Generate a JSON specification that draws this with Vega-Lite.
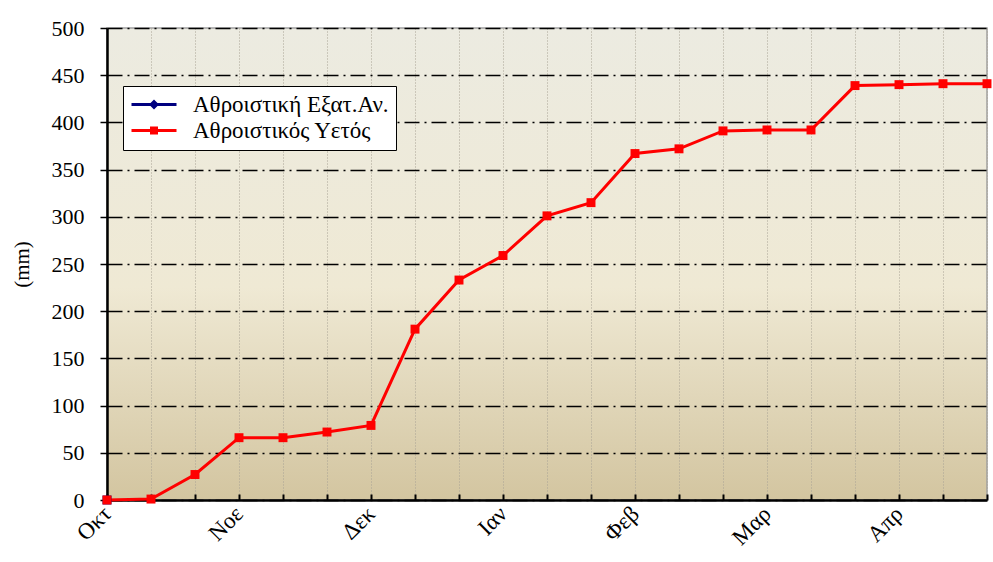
{
  "$schema": "https://vega.github.io/schema/vega-lite/v6.json",
  "width": 880,
  "height": 472,
  "autosize": "none",
  "padding": {"left": 107, "top": 28, "right": 6, "bottom": 62},
  "background": "white",
  "config": {
    "font": "Liberation Serif",
    "view": {
      "stroke": "#a0a0a0",
      "strokeWidth": 1.5,
      "fill": {
        "gradient": "linear",
        "x1": 0, "y1": 0, "x2": 0, "y2": 1,
        "stops": [
          {"offset": 0, "color": "#ecebe1"},
          {"offset": 0.55, "color": "#efe9d4"},
          {"offset": 1, "color": "#d3c5a0"}
        ]
      }
    }
  },
  "data": {
    "values": [
      {"t": 0, "series": "Αθροιστική Εξατ.Αν.", "value": 0},
      {"t": 0, "series": "Αθροιστικός Υετός", "value": 0},
      {"t": 1, "series": "Αθροιστικός Υετός", "value": 1},
      {"t": 2, "series": "Αθροιστικός Υετός", "value": 27},
      {"t": 3, "series": "Αθροιστικός Υετός", "value": 66},
      {"t": 4, "series": "Αθροιστικός Υετός", "value": 66},
      {"t": 5, "series": "Αθροιστικός Υετός", "value": 72},
      {"t": 6, "series": "Αθροιστικός Υετός", "value": 79},
      {"t": 7, "series": "Αθροιστικός Υετός", "value": 181},
      {"t": 8, "series": "Αθροιστικός Υετός", "value": 233},
      {"t": 9, "series": "Αθροιστικός Υετός", "value": 259},
      {"t": 10, "series": "Αθροιστικός Υετός", "value": 301},
      {"t": 11, "series": "Αθροιστικός Υετός", "value": 315},
      {"t": 12, "series": "Αθροιστικός Υετός", "value": 367},
      {"t": 13, "series": "Αθροιστικός Υετός", "value": 372},
      {"t": 14, "series": "Αθροιστικός Υετός", "value": 391},
      {"t": 15, "series": "Αθροιστικός Υετός", "value": 392},
      {"t": 16, "series": "Αθροιστικός Υετός", "value": 392},
      {"t": 17, "series": "Αθροιστικός Υετός", "value": 439},
      {"t": 18, "series": "Αθροιστικός Υετός", "value": 440},
      {"t": 19, "series": "Αθροιστικός Υετός", "value": 441},
      {"t": 20, "series": "Αθροιστικός Υετός", "value": 441}
    ]
  },
  "encoding": {
    "x": {
      "field": "t",
      "type": "quantitative",
      "scale": {"domain": [0, 20], "nice": false, "zero": false},
      "axis": {
        "title": null,
        "values": [0,1,2,3,4,5,6,7,8,9,10,11,12,13,14,15,16,17,18,19,20],
        "labelExpr": "datum.value == 0 ? 'Οκτ' : datum.value == 3 ? 'Νοε' : datum.value == 6 ? 'Δεκ' : datum.value == 9 ? 'Ιαν' : datum.value == 12 ? 'Φεβ' : datum.value == 15 ? 'Μαρ' : datum.value == 18 ? 'Απρ' : ''",
        "labelAngle": -45,
        "labelAlign": "right",
        "labelBaseline": "middle",
        "labelPadding": 16,
        "labelFontSize": 23,
        "labelColor": "black",
        "labelFont": "Liberation Serif",
        "labelOverlap": false,
        "labelFlush": false,
        "domainColor": "black",
        "domainWidth": 2.5,
        "tickColor": "black",
        "tickWidth": 2,
        "tickSize": -6,
        "grid": true,
        "gridColor": "#a8a294",
        "gridWidth": 1,
        "gridDash": [1, 2]
      }
    },
    "y": {
      "field": "value",
      "type": "quantitative",
      "scale": {"domain": [0, 500], "nice": false},
      "axis": {
        "title": "(mm)",
        "titleFont": "Liberation Serif",
        "titleFontSize": 21,
        "titleFontWeight": "normal",
        "titleColor": "black",
        "titlePadding": 19,
        "values": [0,50,100,150,200,250,300,350,400,450,500],
        "labelFontSize": 22,
        "labelColor": "black",
        "labelFont": "Liberation Serif",
        "labelPadding": 16,
        "labelFlush": false,
        "domainColor": "black",
        "domainWidth": 2.5,
        "tickColor": "black",
        "tickWidth": 1.5,
        "tickSize": 7,
        "grid": true,
        "gridColor": "black",
        "gridWidth": 1.5,
        "gridDash": [15, 5, 2, 5]
      }
    },
    "color": {
      "field": "series",
      "type": "nominal",
      "scale": {
        "domain": ["Αθροιστική Εξατ.Αν.", "Αθροιστικός Υετός"],
        "range": ["#000080", "#ff0000"]
      },
      "legend": {
        "title": null,
        "orient": "none",
        "legendX": 16,
        "legendY": 58,
        "fillColor": "white",
        "strokeColor": "black",
        "padding": 7,
        "labelFontSize": 23,
        "labelFont": "Liberation Serif",
        "labelColor": "black",
        "labelOffset": 40,
        "rowPadding": 2,
        "symbolSize": 400,
        "symbolStrokeWidth": 0,
        "symbolOpacity": 1,
        "labelLimit": 400,
        "encode": {
          "symbols": {
            "update": {
              "shape": {"signal": "datum.value === 'Αθροιστικός Υετός' ? 'M-1,-0.14H3.5V0.14H-1Z M0.85,-0.4H1.65V0.4H0.85Z' : 'M-1,-0.14H3.5V0.14H-1Z M1.25,-0.5L1.75,0L1.25,0.5L0.75,0Z'"},
              "fill": {"signal": "datum.value === 'Αθροιστικός Υετός' ? '#ff0000' : '#000080'"},
              "strokeWidth": {"value": 0}
            }
          }
        }
      }
    }
  },
  "layer": [
    {
      "mark": {"type": "line", "strokeWidth": 3}
    },
    {
      "mark": {"type": "point", "shape": "square", "filled": true, "opacity": 1, "size": 80}
    }
  ]
}
